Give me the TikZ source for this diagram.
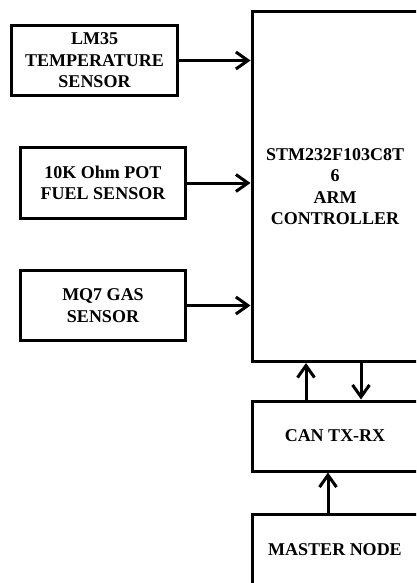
\documentclass[tikz,border=0pt]{standalone}
\usepackage{fontspec}
\setmainfont{Liberation Serif}
\usetikzlibrary{arrows.meta}
\tikzset{
  blk/.style={draw=black, line width=3pt, align=center, inner sep=0pt,
    font=\bfseries\fontsize{18}{21.5}\selectfont},
  arr/.style={line width=3pt, -{Straight Barb[length=12pt,width=17pt,line width=3pt]}}
}
\begin{document}
\begin{tikzpicture}[x=1pt,y=-1pt]
\useasboundingbox (0,0) rectangle (416,583);
\clip (0,0) rectangle (416,583);
\fill[white] (0,0) rectangle (416,583);
\node[blk, minimum width=166pt, minimum height=350pt] (ctrl) at (335,186.5) {STM232F103C8T\\6\\ARM\\CONTROLLER};
\node[blk, minimum width=166pt, minimum height=70pt] (can) at (335,436) {CAN TX-RX};
\node[blk, minimum width=166pt, minimum height=72pt] (master) at (335,550) {MASTER NODE};
\node[blk, minimum width=166pt, minimum height=70pt] (lm) at (94.5,60.5) {LM35\\TEMPERATURE\\SENSOR};
\node[blk, minimum width=165pt, minimum height=71pt] (fuel) at (103,183) {10K Ohm POT\\FUEL SENSOR};
\node[blk, minimum width=165pt, minimum height=70pt] (gas) at (103,305.5) {MQ7 GAS\\SENSOR};
\draw[arr] (lm.east) -- (lm.east -| ctrl.west);
\draw[arr] (fuel.east) -- (fuel.east -| ctrl.west);
\draw[arr] (gas.east) -- (gas.east -| ctrl.west);
\coordinate (upx) at (306,0);
\coordinate (dnx) at (361,0);
\coordinate (msx) at (328,0);
\draw[arr] (can.north -| upx) -- (ctrl.south -| upx);
\draw[arr] (ctrl.south -| dnx) -- (can.north -| dnx);
\draw[arr] (master.north -| msx) -- (can.south -| msx);
\end{tikzpicture}
\end{document}
